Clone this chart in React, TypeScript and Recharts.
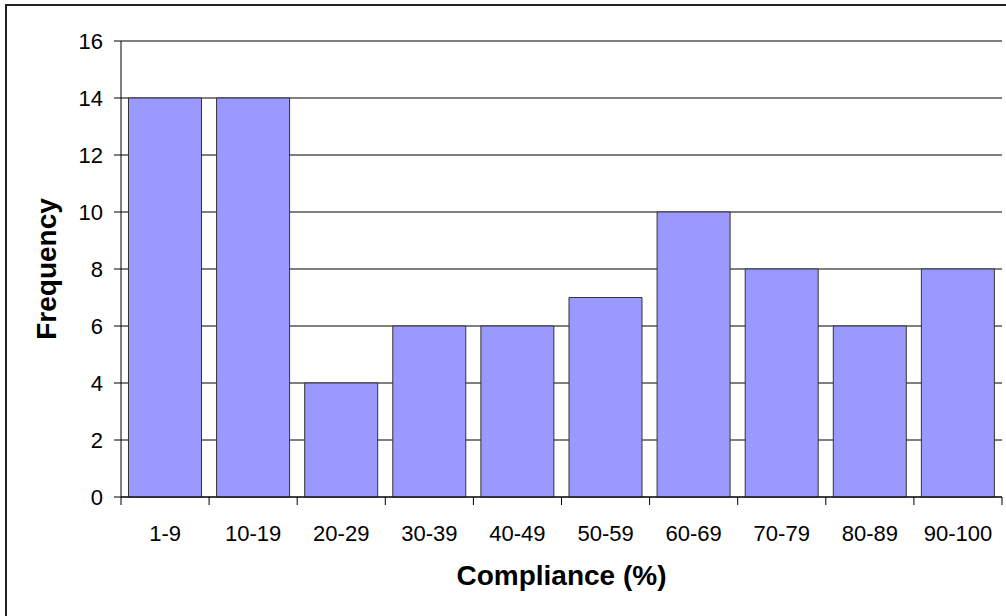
import React from "react";
import { BarChart, Bar, XAxis, YAxis, CartesianGrid } from "recharts";

const categories = ["1-9", "10-19", "20-29", "30-39", "40-49", "50-59", "60-69", "70-79", "80-89", "90-100"];
const frequencies = [14, 14, 4, 6, 6, 7, 10, 8, 6, 8];
const yTicks = [0, 2, 4, 6, 8, 10, 12, 14, 16];

const data = categories.map((range, i) => ({ range, frequency: frequencies[i] }));

const FONT = "'Liberation Sans', Arial, Helvetica, sans-serif";
const X_TICK_SIZE = 8;
const X_TICK_MARGIN = 20;

// ticks sit between the categories, like the spreadsheet original
function CategoryTick(props: any) {
  const { x, y, payload, index, visibleTicksCount } = props;
  const half = payload && payload.offset ? payload.offset : 44;
  const axisY = y - X_TICK_MARGIN - X_TICK_SIZE;
  return (
    <g>
      <line x1={x - half} x2={x - half} y1={axisY} y2={axisY + X_TICK_SIZE} stroke="#000" />
      {index === visibleTicksCount - 1 && (
        <line x1={x + half} x2={x + half} y1={axisY} y2={axisY + X_TICK_SIZE} stroke="#000" />
      )}
      <text x={x} y={y} dy="0.71em" textAnchor="middle" fontSize={22} fontFamily={FONT} fill="#000">
        {payload.value}
      </text>
    </g>
  );
}

export default function App() {
  return (
    <div style={{ position: "absolute", left: 0, top: 0, width: 1006, height: 616, background: "#fff", overflow: "hidden" }}>
      <div style={{ position: "absolute", left: 5, top: 4, width: 1020, height: 640, borderLeft: "2px solid #222", borderTop: "2px solid #222" }} />
      <div style={{ position: "absolute", left: 0, top: 0 }}>
        <BarChart width={1006} height={616} data={data} margin={{ top: 41, right: 4, left: 0, bottom: 0 }} barCategoryGap="8.5%">
          <CartesianGrid vertical={false} stroke="#000" strokeOpacity={1} />
          <XAxis
            dataKey="range"
            height={119}
            stroke="#000"
            tickLine={false}
            tickSize={X_TICK_SIZE}
            tickMargin={X_TICK_MARGIN}
            tick={<CategoryTick />}
            interval={0}
            label={{
              content: ({ viewBox }: any) => (
                <text x={viewBox.x + viewBox.width / 2} y={viewBox.y + 88} textAnchor="middle" fontSize={28} fontWeight="bold" fontFamily={FONT} fill="#000">
                  Compliance (%)
                </text>
              ),
            }}
          />
          <YAxis
            width={121}
            domain={[0, 16]}
            ticks={yTicks}
            stroke="#000"
            tickSize={7}
            tickMargin={11}
            tick={{ fontSize: 22, fontFamily: FONT, fill: "#000" }}
            label={{
              content: ({ viewBox }: any) => {
                const cx = viewBox.x + 46;
                const cy = viewBox.y + viewBox.height / 2;
                return (
                  <text x={cx} y={cy} transform={`rotate(-90 ${cx} ${cy})`} textAnchor="middle" dominantBaseline="central" fontSize={28} fontWeight="bold" fontFamily={FONT} fill="#000">
                    Frequency
                  </text>
                );
              },
            }}
          />
          <Bar dataKey="frequency" fill="#9999FF" stroke="#333" strokeWidth={1} isAnimationActive={false} />
        </BarChart>
      </div>
    </div>
  );
}
